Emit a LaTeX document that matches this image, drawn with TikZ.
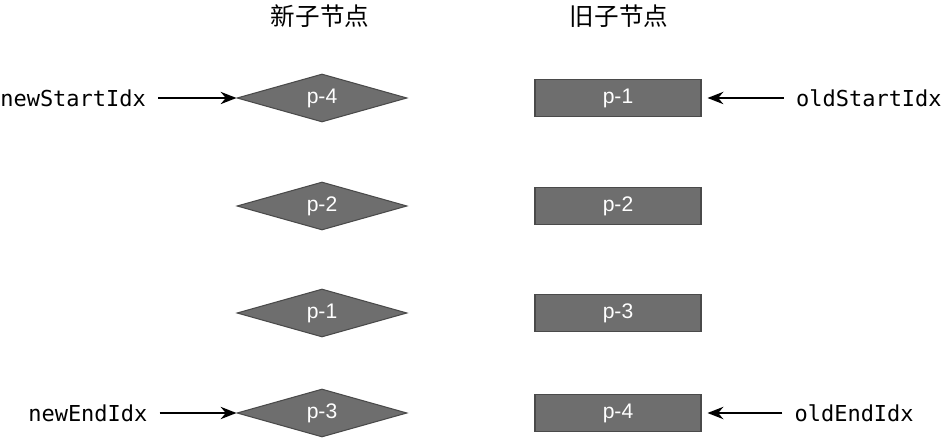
\documentclass[tikz,border=0pt]{standalone}
\usepackage{fontspec}
\setmainfont{Liberation Sans}
\setmonofont{DejaVu Sans Mono}
\newfontfamily\cjk{Noto Sans CJK SC}
\usetikzlibrary{shapes.geometric,arrows.meta}
\definecolor{boxgray}{HTML}{6E6E6E}
\definecolor{edgegray}{HTML}{4A4A4A}
\tikzset{
 dia/.style={diamond,aspect=3.5,fill=boxgray,draw=edgegray,line width=0.6pt,minimum width=170*0.02cm,minimum height=48*0.02cm,inner sep=0pt,text=white,font=\fontsize{12}{12}\selectfont},
 rbox/.style={rectangle,fill=boxgray,draw=edgegray,line width=0.6pt,minimum width=166*0.02cm,minimum height=37*0.02cm,inner sep=0pt,text=white,font=\fontsize{12}{12}\selectfont},
 lab/.style={font=\ttfamily\fontsize{12.5}{12.5}\selectfont,inner sep=0pt},
 hd/.style={font=\cjk\fontsize{14}{14}\selectfont},
 arr/.style={-{Stealth[length=9pt,width=7pt]},line width=1.1pt}
}
\begin{document}
\begin{tikzpicture}[x=0.02cm,y=-0.02cm]
\useasboundingbox (0,0) rectangle (942,438);
\node[hd] (h1) at (320,16) {新子节点};
\node[hd] (h2) at (619,16) {旧子节点};
\node[dia] (n1) at (322,98) {p-4};
\node[dia] (n2) at (322,206) {p-2};
\node[dia] (n3) at (322,313) {p-1};
\node[dia] (n4) at (322,413) {p-3};
\node[rbox] (o1) at (618,98) {p-1};
\node[rbox] (o2) at (618,206) {p-2};
\node[rbox] (o3) at (618,313) {p-3};
\node[rbox] (o4) at (618,413) {p-4};
\node[lab,anchor=west] (ls) at (0,98) {newStartIdx};
\node[lab,anchor=west] (le) at (28,413) {newEndIdx};
\node[lab,anchor=east] (rs) at (942,98) {oldStartIdx};
\node[lab,anchor=east] (re) at (914,413) {oldEndIdx};
\draw[arr] ([xshift=12*0.02cm]ls.east) -- (n1.west);
\draw[arr] ([xshift=12*0.02cm]le.east) -- (n4.west);
\draw[arr] ([xshift=-12*0.02cm]rs.west) -- ([xshift=6*0.02cm]o1.east);
\draw[arr] ([xshift=-12*0.02cm]re.west) -- ([xshift=6*0.02cm]o4.east);
\end{tikzpicture}
\end{document}
